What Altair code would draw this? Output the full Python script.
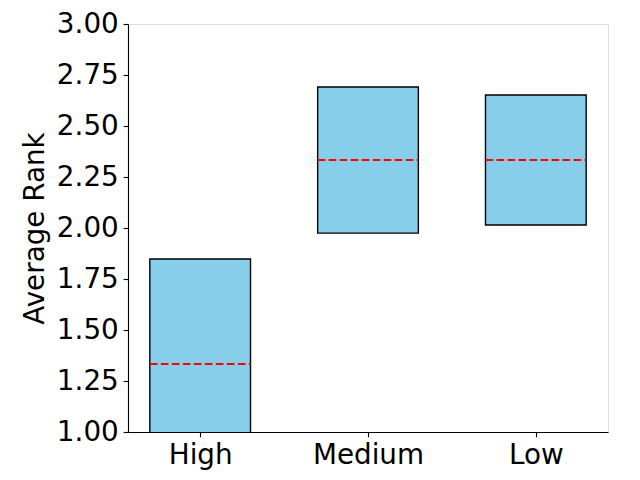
import json
import altair as alt
import pandas as pd

categories = ["High", "Medium", "Low"]
box_low = [0.818, 1.975, 2.015]
box_high = [1.848, 2.691, 2.652]
medians = [1.333, 2.333, 2.333]

half = 0.3
rows = []
for i, c in enumerate(categories):
    rows.append({"cat": c, "pos": i, "x0": i - half, "x1": i + half,
                 "lo": box_low[i], "hi": box_high[i], "med": medians[i]})
df = pd.DataFrame(rows)

FS = 27.8
xscale = alt.Scale(domain=[-0.43, 2.43], nice=False, zero=False)
yscale = alt.Scale(domain=[1.0, 3.0], nice=False, zero=False)

label_expr = json.dumps(categories) + "[datum.value]"

base = alt.Chart(df)

bars = base.mark_bar(color="#87CEEB", stroke="black", strokeWidth=1.39, clip=True).encode(
    x=alt.X("x0:Q", scale=xscale,
            axis=alt.Axis(values=list(range(len(categories))), labelExpr=label_expr,
                          title=None, grid=False, labelFontSize=FS, labelFont="DejaVu Sans",
                          labelColor="black", tickColor="black", domainColor="black",
                          tickSize=4.86, tickWidth=1.11, domainWidth=1.11,
                          labelPadding=4.86)),
    x2="x1:Q",
    y=alt.Y("lo:Q", scale=yscale,
            axis=alt.Axis(values=[1.0, 1.25, 1.5, 1.75, 2.0, 2.25, 2.5, 2.75, 3.0], format=".2f",
                          title="Average Rank", grid=False, labelFontSize=FS,
                          labelFont="DejaVu Sans", labelColor="black",
                          titleFontSize=FS, titleFont="DejaVu Sans", titleFontWeight="normal",
                          titleColor="black", titlePadding=7,
                          tickColor="black", domainColor="black",
                          tickSize=4.86, tickWidth=1.11, domainWidth=1.11,
                          labelPadding=4.86)),
    y2="hi:Q",
)

med = base.mark_rule(color="red", strokeWidth=2.08, strokeDash=[7.7, 3.3]).encode(
    x="x0:Q", x2="x1:Q", y="med:Q"
)

chart = (bars + med).properties(
    width=480, height=408,
    autosize=alt.AutoSizeParams(type="none"),
    padding={"left": 120, "top": 16, "right": 16, "bottom": 48},
).configure_view(stroke="black", strokeWidth=1.11).configure(background="white")

chart.save("out.html", embed_options={"renderer": "svg", "actions": False})
